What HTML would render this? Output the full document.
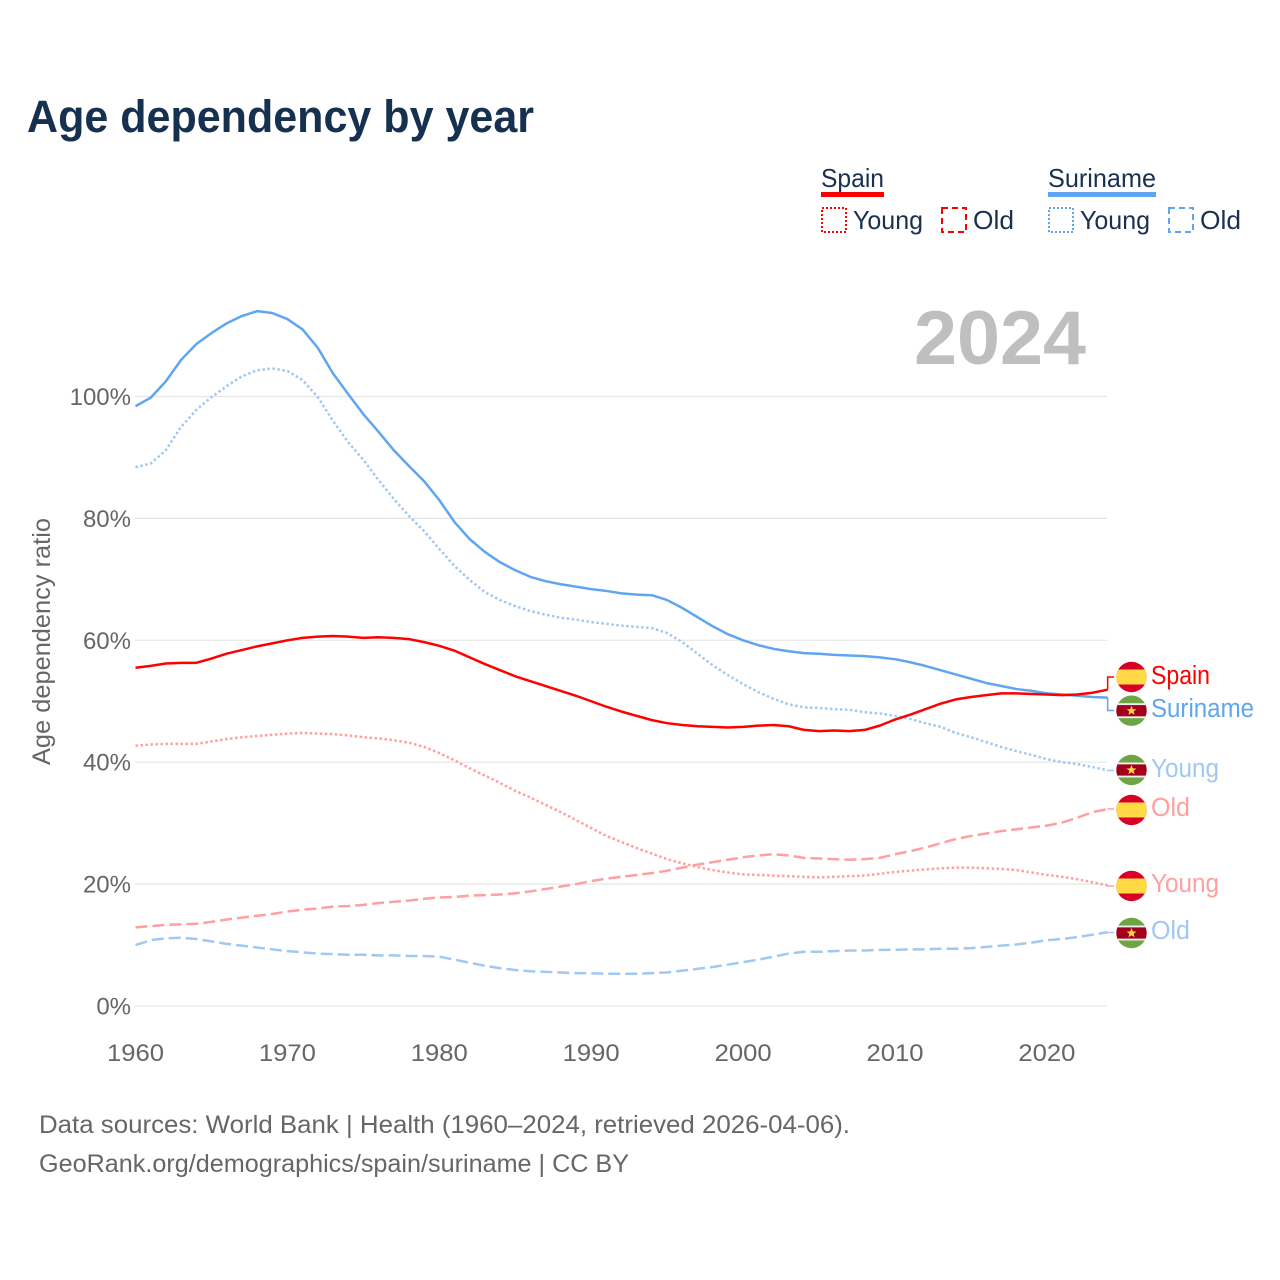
<!DOCTYPE html>
<html lang="en">
<head>
<meta charset="utf-8">
<title>Age dependency by year</title>
<style>
html,body{margin:0;padding:0;background:#fff;width:1280px;height:1280px;overflow:hidden}
svg{display:block}
text{font-family:"Liberation Sans",sans-serif}
</style>
</head>
<body>
<svg id="chart" width="1280" height="1280" viewBox="0 0 1280 1280" xmlns="http://www.w3.org/2000/svg">
  <defs>
    <clipPath id="flag-clip-unit"><circle cx="0" cy="0" r="15.2"/></clipPath>
    <g id="flag-es">
      <g clip-path="url(#flag-clip-unit)">
        <rect x="-16" y="-16" width="32" height="32" fill="#d80027"/>
        <rect x="-16" y="-7.5" width="32" height="15" fill="#ffda44"/>
      </g>
    </g>
    <g id="flag-sr">
      <g clip-path="url(#flag-clip-unit)">
        <rect x="-16" y="-16" width="32" height="32" fill="#6da544"/>
        <rect x="-16" y="-7.5" width="32" height="15" fill="#eeeeee"/>
        <rect x="-16" y="-5.6" width="32" height="11.2" fill="#a2001d"/>
        <polygon points="0,-5 1.4,-1.5 5,-1.5 2.1,0.7 3.1,4.2 0,2.2 -3.1,4.2 -2.1,0.7 -5,-1.5 -1.4,-1.5" fill="#ffda44"/>
      </g>
    </g>
  </defs>

  <text x="27" y="132" font-size="45" font-weight="700" fill="#16304f" textLength="507" lengthAdjust="spacingAndGlyphs">Age dependency by year</text>

  <g>
    <text x="821" y="187" font-size="26" fill="#1a3050" textLength="63" lengthAdjust="spacingAndGlyphs">Spain</text>
    <rect x="821" y="192" width="63" height="5" fill="#ff0000"/>
    <rect x="822" y="208" width="24" height="24" fill="none" stroke="#ff0000" stroke-width="2" stroke-dasharray="2 2"/>
    <text x="853" y="229" font-size="26" fill="#1a3050" textLength="70" lengthAdjust="spacingAndGlyphs">Young</text>
    <rect x="942" y="208" width="24" height="24" fill="none" stroke="#ff0000" stroke-width="2" stroke-dasharray="6 4"/>
    <text x="973" y="229" font-size="26" fill="#1a3050" textLength="41" lengthAdjust="spacingAndGlyphs">Old</text>

    <text x="1048" y="187" font-size="26" fill="#1a3050" textLength="108" lengthAdjust="spacingAndGlyphs">Suriname</text>
    <rect x="1048" y="192" width="108" height="5" fill="#60a5f0"/>
    <rect x="1049" y="208" width="24" height="24" fill="none" stroke="#60a5f0" stroke-width="2" stroke-dasharray="2 2"/>
    <text x="1080" y="229" font-size="26" fill="#1a3050" textLength="70" lengthAdjust="spacingAndGlyphs">Young</text>
    <rect x="1169" y="208" width="24" height="24" fill="none" stroke="#60a5f0" stroke-width="2" stroke-dasharray="6 4"/>
    <text x="1200" y="229" font-size="26" fill="#1a3050" textLength="41" lengthAdjust="spacingAndGlyphs">Old</text>
  </g>

  <text x="914" y="364" font-size="76" font-weight="700" fill="#bfbfbf" textLength="172" lengthAdjust="spacingAndGlyphs">2024</text>

  <g id="grid"></g>
  <g id="yticks"></g>
  <g id="xticks"></g>
  <text transform="translate(50,765) rotate(-90)" x="0" y="0" font-size="25" fill="#666666" textLength="247" lengthAdjust="spacingAndGlyphs">Age dependency ratio</text>

  <g id="series"></g>

  <g id="end-labels">
    <use href="#flag-es" x="1131.5" y="677"/>
    <text x="1151" y="684" font-size="25.5" fill="#ff0000" textLength="59" lengthAdjust="spacingAndGlyphs">Spain</text>
    <use href="#flag-sr" x="1131.5" y="710.7"/>
    <text x="1151" y="717" font-size="25.5" fill="#60a5f0" textLength="103" lengthAdjust="spacingAndGlyphs">Suriname</text>
    <use href="#flag-sr" x="1131.5" y="770"/>
    <text x="1151" y="777" font-size="25.5" fill="#a0c8f0" textLength="68" lengthAdjust="spacingAndGlyphs">Young</text>
    <use href="#flag-es" x="1131.5" y="810"/>
    <text x="1151" y="816" font-size="25.5" fill="#ff9f9f" textLength="39" lengthAdjust="spacingAndGlyphs">Old</text>
    <use href="#flag-es" x="1131.5" y="886"/>
    <text x="1151" y="892" font-size="25.5" fill="#ff9f9f" textLength="68" lengthAdjust="spacingAndGlyphs">Young</text>
    <use href="#flag-sr" x="1131.5" y="933"/>
    <text x="1151" y="939" font-size="25.5" fill="#a0c8f0" textLength="39" lengthAdjust="spacingAndGlyphs">Old</text>
  </g>

  <text x="39" y="1133" font-size="25" fill="#666666" textLength="811" lengthAdjust="spacingAndGlyphs">Data sources: World Bank | Health (1960–2024, retrieved 2026-04-06).</text>
  <text x="39" y="1172" font-size="25" fill="#666666" textLength="590" lengthAdjust="spacingAndGlyphs">GeoRank.org/demographics/spain/suriname | CC BY</text>
</svg>
<script>
var startYear = 1960;
var xTickYears = [1960, 1970, 1980, 1990, 2000, 2010, 2020];
var yTickValues = [0, 20, 40, 60, 80, 100];

var surinameTotal = [
  98.4, 99.8, 102.5, 106, 108.6, 110.4, 112, 113.2, 114, 113.7,
  112.7, 111, 108, 103.8, 100.4, 97.1, 94.2, 91.2, 88.6, 86.1,
  83, 79.4, 76.6, 74.5, 72.8, 71.5, 70.4, 69.7, 69.2, 68.8,
  68.4, 68.1, 67.7, 67.5, 67.4, 66.6, 65.3, 63.8, 62.3, 61,
  60, 59.2, 58.6, 58.2, 57.9, 57.8, 57.6, 57.5, 57.4, 57.2,
  56.9, 56.4, 55.8, 55.1, 54.4, 53.7, 53, 52.5, 52, 51.7,
  51.3, 51.1, 50.9, 50.7, 50.6
];
var surinameYoung = [
  88.4, 89, 91.2, 95, 97.8, 99.9, 101.7, 103.3, 104.3, 104.6,
  104.2, 102.7, 99.9, 96, 92.5, 89.6, 86.3, 83.2, 80.4, 77.9,
  75, 72.2, 69.9, 67.9, 66.6, 65.6, 64.8, 64.2, 63.7, 63.4,
  63, 62.7, 62.4, 62.2, 62, 61.2, 59.7, 57.8, 55.9, 54.3,
  52.8, 51.5, 50.4, 49.5, 49, 48.9, 48.7, 48.6, 48.2, 48,
  47.6, 47.1, 46.4, 45.8, 44.8, 44.1, 43.3, 42.5, 41.8, 41.2,
  40.5, 40, 39.7, 39.2, 38.7
];
var surinameOld = [
  10, 10.8, 11.1, 11.2, 11, 10.6, 10.2, 9.9, 9.6, 9.3,
  9, 8.8, 8.6, 8.5, 8.4, 8.4, 8.3, 8.3, 8.2, 8.2,
  8.1, 7.6, 7.1, 6.6, 6.2, 5.9, 5.7, 5.6, 5.5, 5.4,
  5.35, 5.3, 5.3, 5.3, 5.4, 5.5, 5.8, 6.1, 6.4, 6.8,
  7.2, 7.6, 8.1, 8.6, 8.9, 8.9, 9, 9.1, 9.1, 9.2,
  9.2, 9.3, 9.3, 9.4, 9.4, 9.5, 9.7, 9.9, 10.1, 10.4,
  10.8, 11, 11.3, 11.7, 12.1
];
var spainTotal = [
  55.5, 55.8, 56.2, 56.3, 56.3, 57, 57.8, 58.4, 59, 59.5,
  60, 60.4, 60.6, 60.7, 60.6, 60.4, 60.5, 60.4, 60.2, 59.7,
  59.1, 58.3, 57.2, 56.1, 55.1, 54.1, 53.3, 52.5, 51.7, 50.9,
  50, 49.1, 48.3, 47.6, 46.9, 46.4, 46.1, 45.9, 45.8, 45.7,
  45.8, 46, 46.1, 45.9, 45.3, 45.1, 45.2, 45.1, 45.3, 46,
  47, 47.8, 48.7, 49.6, 50.3, 50.7, 51, 51.3, 51.3, 51.2,
  51.1, 51, 51.1, 51.4, 51.9
];
var spainYoung = [
  42.7, 42.9, 43, 43, 43, 43.4, 43.8, 44.1, 44.3, 44.5,
  44.7, 44.8, 44.7, 44.6, 44.4, 44.1, 43.9, 43.6, 43.2, 42.5,
  41.5, 40.3, 39, 37.8, 36.6, 35.3, 34.2, 33, 31.8, 30.5,
  29.2, 27.9, 26.9, 25.9, 25, 24.1, 23.4, 22.8, 22.3, 21.9,
  21.6, 21.5, 21.4, 21.3, 21.2, 21.1, 21.2, 21.3, 21.4, 21.7,
  22, 22.2, 22.4, 22.6, 22.7, 22.7, 22.6, 22.5, 22.3, 21.9,
  21.5, 21.2, 20.8, 20.3, 19.8
];
var spainOld = [
  12.9, 13.1, 13.3, 13.4, 13.5, 13.8, 14.2, 14.5, 14.8, 15.1,
  15.5, 15.8, 16, 16.3, 16.4, 16.6, 16.9, 17.1, 17.3, 17.6,
  17.8, 17.9, 18.1, 18.2, 18.3, 18.5, 18.8, 19.2, 19.6, 20,
  20.5, 20.9, 21.2, 21.5, 21.8, 22.2, 22.7, 23.2, 23.6, 24,
  24.4, 24.7, 24.9, 24.7, 24.3, 24.2, 24.1, 24, 24.1, 24.3,
  24.9, 25.4, 26, 26.7, 27.4, 27.9, 28.3, 28.7, 29, 29.3,
  29.6, 30.1, 30.9, 31.8, 32.3
];

var SVGNS = 'http://www.w3.org/2000/svg';
function xScale(year) { return 135.5 + (year - 1960) * 15.19; }
function yScale(value) { return 1006 - value * 6.095; }

var grid = document.getElementById('grid');
var yticks = document.getElementById('yticks');
yTickValues.forEach(function (v) {
  var line = document.createElementNS(SVGNS, 'line');
  
  
  line.setAttribute('x1', 135);
  line.setAttribute('x2', 1107);
  line.setAttribute('y1', yScale(v));
  line.setAttribute('y2', yScale(v));
  line.setAttribute('stroke', '#e6e6e6');
  line.setAttribute('stroke-width', 1.2);
  grid.appendChild(line);
  var label = document.createElementNS(SVGNS, 'text');
  
  
  label.setAttribute('x', 131);
  label.setAttribute('y', yScale(v) + 8.5);
  label.setAttribute('text-anchor', 'end');
  label.setAttribute('font-size', 24);
  label.setAttribute('fill', '#666666');
  label.textContent = v + '%';
  yticks.appendChild(label);
});

var xticks = document.getElementById('xticks');
xTickYears.forEach(function (yr) {
  var label = document.createElementNS(SVGNS, 'text');
  
  
  label.setAttribute('x', xScale(yr));
  label.setAttribute('y', 1061);
  label.setAttribute('text-anchor', 'middle');
  label.setAttribute('font-size', 24);
  label.setAttribute('fill', '#666666');
  label.setAttribute('textLength', 57);
  label.setAttribute('lengthAdjust', 'spacingAndGlyphs');
  label.textContent = yr;
  xticks.appendChild(label);
});

function buildPath(values) {
  var d = '';
  values.forEach(function (v, i) {
    d += (i ? 'L' : 'M') + xScale(startYear + i).toFixed(2) + ' ' + yScale(v).toFixed(2);
  });
  return d;
}

var seriesGroup = document.getElementById('series');
function drawSeries(name, values, color, dash, labelY) {
  var p = document.createElementNS(SVGNS, 'path');
  
  
  p.setAttribute('d', buildPath(values));
  p.setAttribute('fill', 'none');
  p.setAttribute('stroke', color);
  p.setAttribute('stroke-width', 2.5);
  p.setAttribute('stroke-linejoin', 'round');
  if (dash) p.setAttribute('stroke-dasharray', dash);
  seriesGroup.appendChild(p);

  var lastX = xScale(startYear + values.length - 1);
  var lastY = yScale(values[values.length - 1]);
  var leader = document.createElementNS(SVGNS, 'path');
  
  
  leader.setAttribute('d', 'M' + lastX.toFixed(2) + ' ' + lastY.toFixed(2) + 'L' + lastX.toFixed(2) + ' ' + labelY + 'L1114 ' + labelY);
  leader.setAttribute('fill', 'none');
  leader.setAttribute('stroke', color);
  leader.setAttribute('stroke-width', 1.5);
  seriesGroup.appendChild(leader);
}

drawSeries('line-suriname-old', surinameOld, '#a0c8f0', '12 5', 932.5);
drawSeries('line-spain-young', spainYoung, '#ff9f9f', '2.5 2.5', 886);
drawSeries('line-spain-old', spainOld, '#ff9f9f', '12 5', 809);
drawSeries('line-suriname-young', surinameYoung, '#a0c8f0', '2.5 2.5', 770.5);
drawSeries('line-suriname-total', surinameTotal, '#60a5f0', null, 710.5);
drawSeries('line-spain-total', spainTotal, '#ff0000', null, 677);
</script>
</body>
</html>
